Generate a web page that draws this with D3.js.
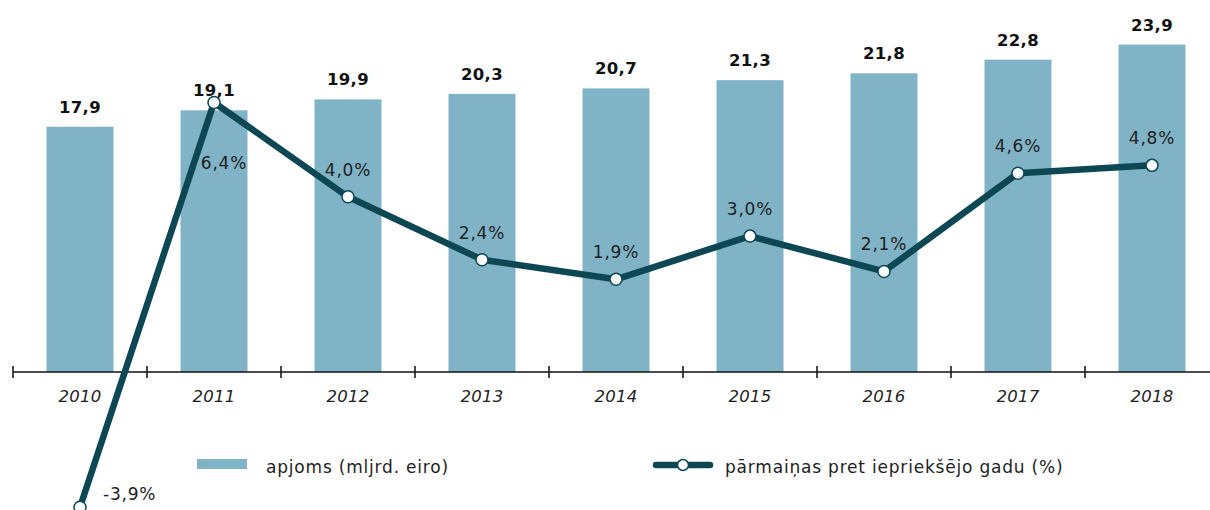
<!DOCTYPE html>
<html><head><meta charset="utf-8">
<script src="https://cdn.jsdelivr.net/npm/d3@7"></script>
<style>body{margin:0;background:#fff}svg{display:block}</style>
</head><body>
<svg id="c" width="1210" height="510"></svg>
<script>
const years = ["2010","2011","2012","2013","2014","2015","2016","2017","2018"];
const volume = [17.9,19.1,19.9,20.3,20.7,21.3,21.8,22.8,23.9];
const change = [-3.9,6.4,4.0,2.4,1.9,3.0,2.1,4.6,4.8];
const legendLabels = ["apjoms (mljrd. eiro)","pārmaiņas pret iepriekšējo gadu (%)"];

const fmt = v => String(v.toFixed(1)).replace(".", ",");
const svg = d3.select("#c");
const font = "'DejaVu Sans', Verdana, sans-serif";
const barColor = "#7fb3c5", lineColor = "#0c4753", textColor = "#1e1e24";

const x = d3.scaleBand().domain(years).range([13, 1219]).paddingInner(0.5).paddingOuter(0.25);
const baseY = 372;
const yBar = d3.scaleLinear().domain([0, 24]).range([baseY, baseY - 24*13.7]);
const yPct = d3.scaleLinear().domain([-4, 7]).range([354 + 4*39.3, 354 - 7*39.3]);
const cx = d => x(d) + x.bandwidth()/2;

// bars
svg.append("g").selectAll("rect").data(years).join("rect")
  .attr("x", d => x(d)).attr("width", x.bandwidth())
  .attr("y", (d,i) => yBar(volume[i])).attr("height", (d,i) => yBar(0) - yBar(volume[i]))
  .attr("fill", barColor);

// bar labels
svg.append("g").selectAll("text").data(years).join("text")
  .attr("x", cx).attr("y", (d,i) => yBar(volume[i]) - 14)
  .attr("text-anchor", "middle").attr("font-family", font).attr("font-weight", "bold")
  .attr("font-size", 16.5).attr("letter-spacing", 0.3).attr("fill", "#111").text((d,i) => fmt(volume[i]));

// axis
const axis = d3.axisBottom(x).tickSize(0).tickPadding(18);
const ag = svg.append("g").attr("transform", `translate(0,${baseY})`).call(axis);
ag.select(".domain").attr("d", `M13,0H1210`).attr("stroke", "#111").attr("stroke-width", 1.5);
ag.selectAll("text").attr("font-family", font).attr("font-style", "italic").attr("font-size", 16.5)
  .attr("letter-spacing", 0.3).attr("fill", textColor);
const tickPos = years.map(d => x(d) - x.step()*0.25);
ag.selectAll(".sep").data(tickPos).join("line").attr("class","sep")
  .attr("x1", d => d).attr("x2", d => d).attr("y1", -6).attr("y2", 6)
  .attr("stroke", "#111").attr("stroke-width", 1.5);

// line
const line = d3.line().x((d,i) => cx(years[i])).y(d => yPct(d));
svg.append("path").datum(change).attr("d", line).attr("fill", "none")
  .attr("stroke", lineColor).attr("stroke-width", 6.5).attr("stroke-linejoin", "round");
svg.append("g").selectAll("circle").data(change).join("circle")
  .attr("cx", (d,i) => cx(years[i])).attr("cy", d => yPct(d)).attr("r", 6)
  .attr("fill", "#fff").attr("stroke", lineColor).attr("stroke-width", 1.5);

// pct labels
svg.append("g").selectAll("text").data(change).join("text")
  .attr("x", (d,i) => i === 0 ? cx(years[i]) + 23 : i === 1 ? cx(years[i]) + 10 : cx(years[i]))
  .attr("y", (d,i) => i === 0 ? yPct(d) - 7 : i === 1 ? yPct(d) + 67 : yPct(d) - 21)
  .attr("text-anchor", (d,i) => i === 0 ? "start" : "middle")
  .attr("font-family", font).attr("font-size", 17).attr("letter-spacing", 0.8).attr("fill", textColor)
  .text(d => fmt(d) + "%");

// legend
const lg = svg.append("g").attr("font-family", font).attr("font-size", 17).attr("letter-spacing", 0.8).attr("fill", textColor);
lg.append("rect").attr("x", 197).attr("y", 459).attr("width", 50).attr("height", 10).attr("fill", barColor);
lg.append("text").attr("x", 266).attr("y", 473).text(legendLabels[0]);
lg.append("line").attr("x1", 656).attr("x2", 710).attr("y1", 465).attr("y2", 465)
  .attr("stroke", lineColor).attr("stroke-width", 6.5).attr("stroke-linecap", "round");
lg.append("circle").attr("cx", 683).attr("cy", 465).attr("r", 5.5).attr("fill", "#fff")
  .attr("stroke", lineColor).attr("stroke-width", 1.5);
lg.append("text").attr("x", 725).attr("y", 473).text(legendLabels[1]);
</script>
</body></html>
